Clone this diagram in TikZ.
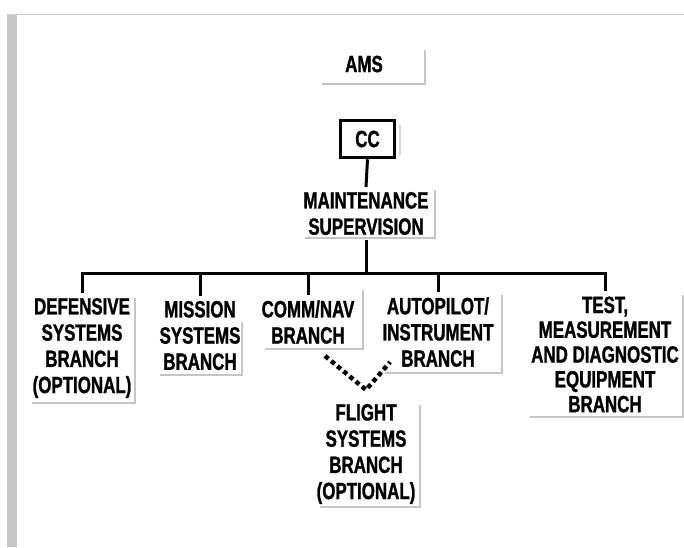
\documentclass[tikz,border=0pt]{standalone}
\usepackage{fontspec}
\newfontfamily\bfont[FakeStretch=0.72, BoldFeatures={FakeBold=1.2}]{Liberation Sans}
\begin{document}
\begin{tikzpicture}[x=1pt,y=-1pt,
  lbl/.style={font=\bfont\bfseries\fontsize{23.5}{26.2}\selectfont, align=center, inner xsep=0pt, inner ysep=5pt},
  conn/.style={line width=3pt, line join=miter},
  vdots/.style={line width=4.5pt, dash pattern=on 4.5pt off 3.5pt},
  shade/.style={draw=gray!45, line width=1.5pt}]
\useasboundingbox (0,0) rectangle (684,547);
% scan border
\fill[gray!45] (7,14) rectangle (17,547);
\draw[gray!40, line width=1pt] (7,14) -- (684,14);
% shadows
\draw[shade] (425,50) -- (425,84) -- (322,84);
\draw[shade, gray!30] (400,125) -- (400,155);
\draw[shade] (435,190) -- (435,238) -- (305,238);
\draw[shade] (135,298) -- (135,403) -- (32,403);
\draw[shade] (242,322) -- (242,375) -- (160,375);
\draw[shade] (363,290) -- (363,349) -- (265,349);
\draw[shade] (502,295) -- (502,373) -- (385,373);
\draw[shade] (683,295) -- (683,417) -- (530,417);
\draw[shade] (420,405) -- (420,507) -- (320,507);
% nodes
\node[lbl] (ams) at (364,64) {AMS};
\node[lbl, draw, line width=3.5pt, minimum width=54pt, minimum height=37pt, inner ysep=0pt] (cc) at (367.5,139) {CC};
\node[lbl] (maint) at (366,213.5) {MAINTENANCE\\SUPERVISION};
\node[lbl] (def) at (82,348) {DEFENSIVE\\SYSTEMS\\BRANCH\\(OPTIONAL)};
\node[lbl] (mis) at (200,335.5) {MISSION\\SYSTEMS\\BRANCH};
\node[lbl] (com) at (308,322) {COMM/NAV\\BRANCH};
\node[lbl] (aut) at (438,332) {AUTOPILOT/\\INSTRUMENT\\BRANCH};
\node[lbl, font=\bfont\bfseries\fontsize{23.5}{24.8}\selectfont] (tst) at (605,354.5) {TEST,\\MEASUREMENT\\AND DIAGNOSTIC\\EQUIPMENT\\BRANCH};
\node[lbl] (flt) at (366,454) {FLIGHT\\SYSTEMS\\BRANCH\\(OPTIONAL)};
\coordinate (bar) at (366,273);
% connectors
\draw[conn] (cc.south) -- (maint.north);
\draw[conn] (maint.south) -- (maint.south |- bar);
\draw[conn] (def.north) -- (def.north |- bar) -- (tst.north |- bar) -- (tst.north);
\draw[conn] (mis.north) -- (mis.north |- bar);
\draw[conn] (com.north) -- (com.north |- bar);
\draw[conn] (aut.north) -- (aut.north |- bar);
\draw[vdots] ([xshift=17pt,yshift=-7pt]com.south) -- ([yshift=9pt]flt.north) -- ([xshift=-48pt,yshift=10pt]aut.south);
\end{tikzpicture}
\end{document}
